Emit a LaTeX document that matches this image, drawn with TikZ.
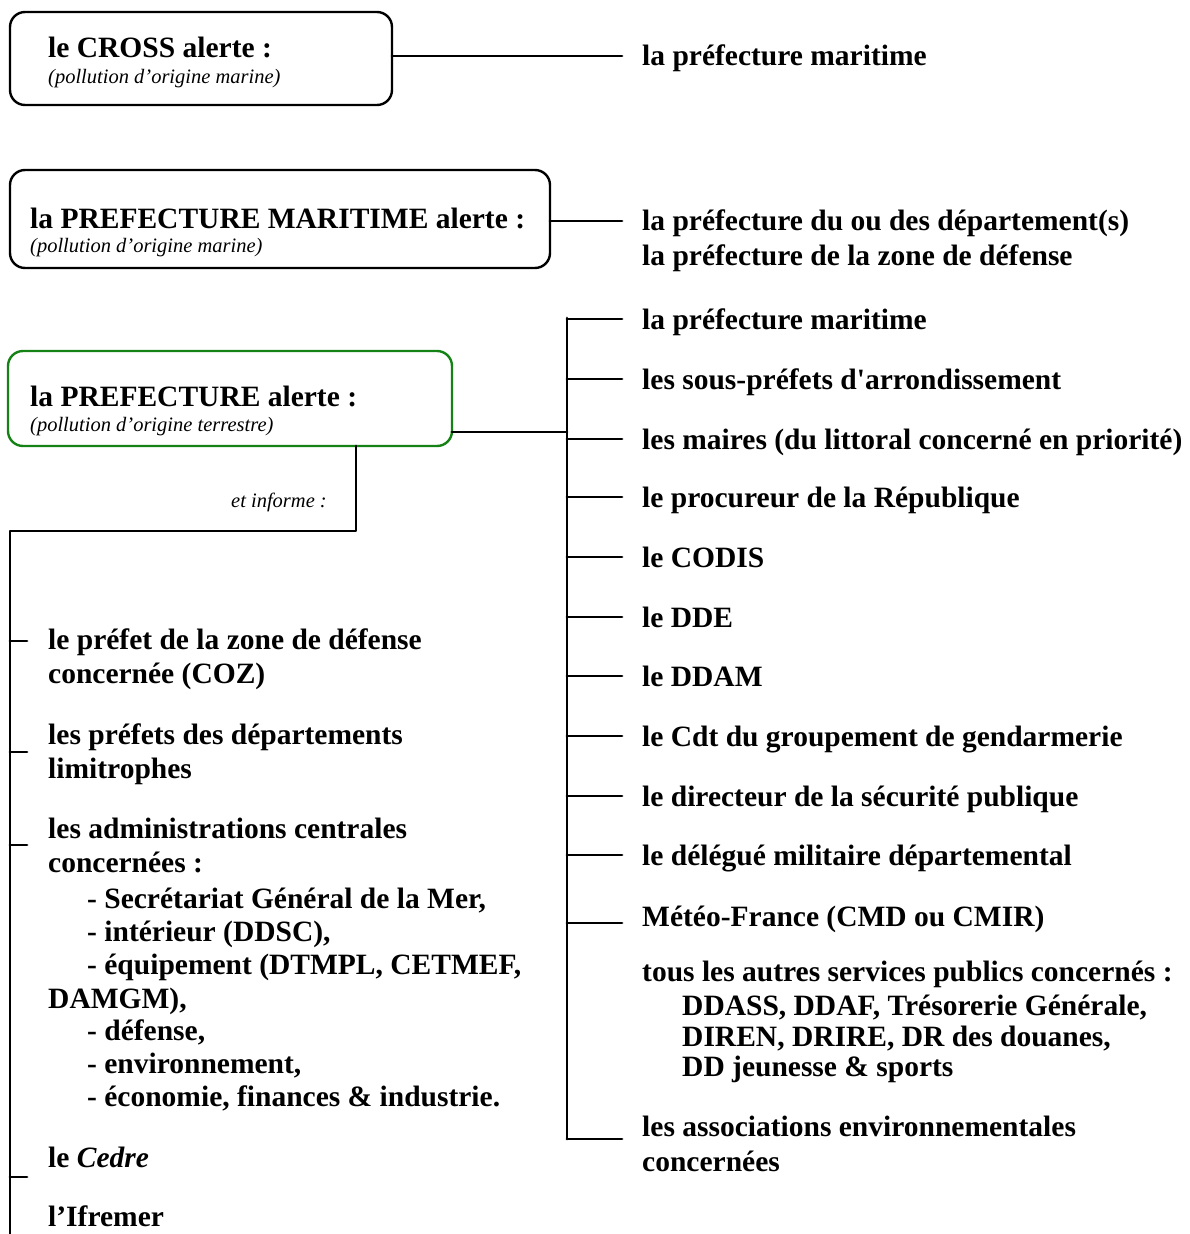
\documentclass[tikz,border=0pt]{standalone}
\usepackage{fontspec}
\setmainfont{Liberation Serif}[Ligatures=TeXOff]
\begin{document}
\begin{tikzpicture}[x=1pt,y=-1pt,
  ln/.style={line width=2.8pt, line cap=round, line join=round},
  boxframe/.style={line width=2.4pt, rounded corners=15pt},
  item/.style={anchor=base west, inner sep=0pt, font=\fontsize{29.5}{34}\selectfont\bfseries},
  sub/.style={anchor=base west, inner sep=0pt, font=\fontsize{20.5}{24}\selectfont\itshape},
]
\useasboundingbox (0,0) rectangle (1190,1234);

% --- alert boxes ---
\draw[boxframe] (10,12) rectangle (392,105);
\node[item] (cross) at (48,57) {le CROSS alerte :};
\node[sub] (crosss) at (48,83) {(pollution d’origine marine)};
\coordinate (b1) at (392,56);

\draw[boxframe] (10,170) rectangle (550,268);
\node[item] (pm) at (30,228) {la PREFECTURE MARITIME alerte :};
\node[sub] (pms) at (30,252) {(pollution d’origine marine)};
\coordinate (b2) at (550,221);

\draw[boxframe, draw={rgb,255:red,20;green,130;blue,20}] (8,351) rectangle (452,446);
\node[item] (pref) at (30,406) {la PREFECTURE alerte :};
\node[sub] (prefs) at (30,431) {(pollution d’origine terrestre)};
\coordinate (b3) at (452,432);
\coordinate (b3d) at (356,446);

% --- recipients of the CROSS / maritime prefecture ---
\node[item] (r1) at (642,65) {la préfecture maritime};
\draw[ln] (b1) -- (622,56);

\node[item] (r2a) at (642,230) {la préfecture du ou des département(s)};
\node[item] (r2b) at (642,265) {la préfecture de la zone de défense};
\draw[ln] (b2) -- (622,221);

% --- recipients of the prefecture ---
\coordinate (vtop) at (567,318);
\coordinate (vbot) at (567,1139);
\draw[ln] (b3) -- (567,432);
\draw[ln] (vtop) -- (vbot);

\foreach \y/\t [count=\i] in {
  319/la préfecture maritime,
  379/les sous-préfets d'arrondissement,
  439/les maires (du littoral concerné en priorité),
  497/le procureur de la République,
  557/le CODIS,
  617/le DDE,
  676/le DDAM,
  736/le Cdt du groupement de gendarmerie,
  796/le directeur de la sécurité publique,
  855/le délégué militaire départemental}
{
  \node[item] (p\i) at (642,\y+10) {\t};
  \draw[ln] (567,\y) -- (622,\y);
}
\node[item] (p11) at (642,926) {Météo-France (CMD ou CMIR)};
\draw[ln] (567,923) -- (622,923);
\node[item] (p12) at (642,981) {tous les autres services publics concernés :};
\node[item] (p12a) at (682,1015) {DDASS, DDAF, Trésorerie Générale,};
\node[item] (p12b) at (682,1046) {DIREN, DRIRE, DR des douanes,};
\node[item] (p12c) at (682,1076) {DD jeunesse \& sports};
\node[item] (p13) at (642,1136) {les associations environnementales};
\node[item] (p13b) at (642,1171) {concernées};
\draw[ln] (vbot) -- (622,1139);

% --- bodies that are informed ---
\node[sub, anchor=base east] (inf) at (327,507) {et informe :};
\coordinate (lcorner) at (10,531);
\draw[ln] (b3d) -- (356,531) -- (lcorner) -- (10,1240);

\node[item] (l1) at (48,649) {le préfet de la zone de défense};
\node[item] (l1b) at (48,683) {concernée (COZ)};
\draw[ln] (10,641) -- (27,641);

\node[item] (l2) at (48,744) {les préfets des départements};
\node[item] (l2b) at (48,778) {limitrophes};
\draw[ln] (10,752) -- (27,752);

\node[item] (l3) at (48,838) {les administrations centrales};
\node[item] (l3b) at (48,872) {concernées :};
\draw[ln] (10,845) -- (27,845);
\node[item] (l3c) at (87,908) {- Secrétariat Général de la Mer,};
\node[item] (l3d) at (87,941) {- intérieur (DDSC),};
\node[item] (l3e) at (87,974) {- équipement (DTMPL, CETMEF,};
\node[item] (l3f) at (48,1008) {DAMGM),};
\node[item] (l3g) at (87,1040) {- défense,};
\node[item] (l3h) at (87,1073) {- environnement,};
\node[item] (l3i) at (87,1106) {- économie, finances \& industrie.};

\node[item] (l4) at (48,1167) {le \textit{Cedre}};
\draw[ln] (10,1177) -- (27,1177);
\node[item] (l5) at (48,1226) {l’Ifremer};
\end{tikzpicture}
\end{document}
